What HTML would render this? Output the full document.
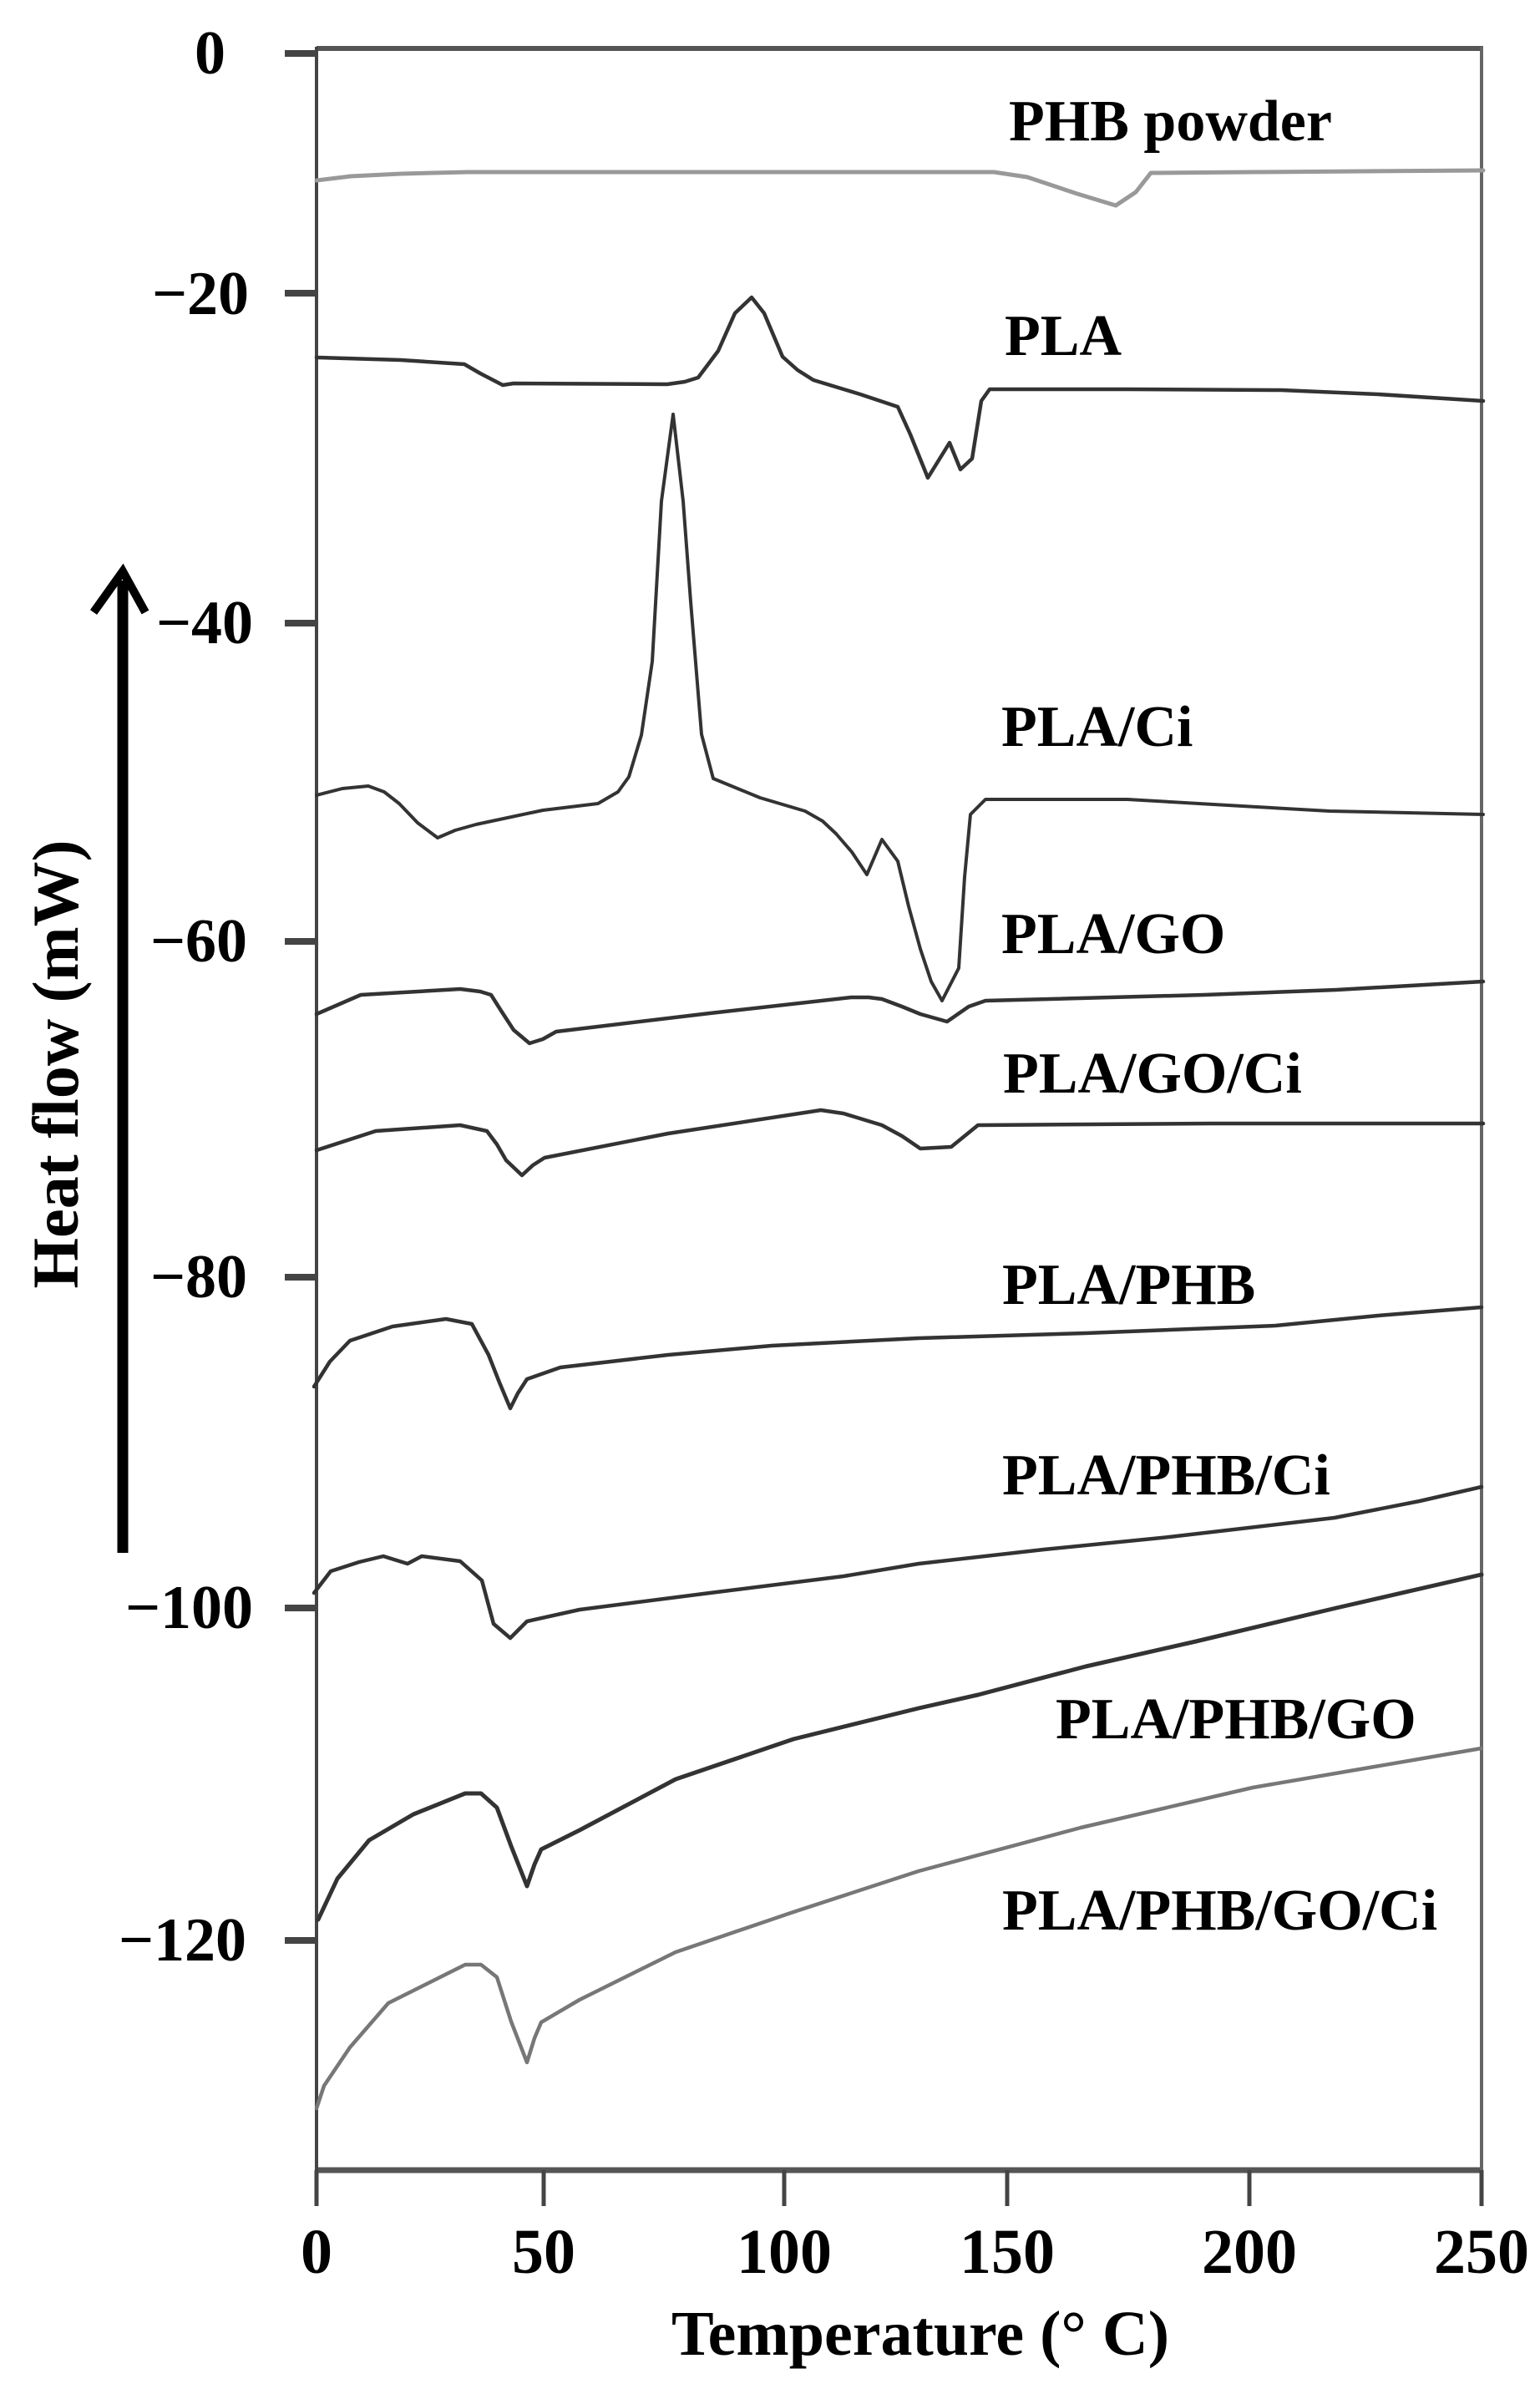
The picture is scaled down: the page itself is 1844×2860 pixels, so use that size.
<!DOCTYPE html>
<html><head><meta charset="utf-8"><style>
html,body{margin:0;padding:0;background:#fff;}
svg{display:block;}
text{font-family:"Liberation Serif",serif;font-weight:bold;fill:#000;}
</style></head><body>
<svg width="1844" height="2860" viewBox="0 0 1844 2860" xmlns="http://www.w3.org/2000/svg">
<!-- frame -->
<line x1="379" y1="58" x2="1776" y2="58" stroke="#555" stroke-width="6"/>
<line x1="379" y1="2598" x2="1776" y2="2598" stroke="#555" stroke-width="7"/>
<line x1="379" y1="56" x2="379" y2="2600" stroke="#444" stroke-width="4"/>
<line x1="1774" y1="56" x2="1774" y2="2600" stroke="#666" stroke-width="4"/>
<!-- y ticks -->
<g stroke="#444" stroke-width="8">
<line x1="341" y1="64" x2="379" y2="64"/>
<line x1="341" y1="351" x2="379" y2="351"/>
<line x1="341" y1="746" x2="379" y2="746"/>
<line x1="341" y1="1127" x2="379" y2="1127"/>
<line x1="341" y1="1529" x2="379" y2="1529"/>
<line x1="341" y1="1925" x2="379" y2="1925"/>
<line x1="341" y1="2323" x2="379" y2="2323"/>
</g>
<g font-size="74" text-anchor="end">
<text x="270" y="88">0</text>
<text x="298" y="376">−20</text>
<text x="303" y="770">−40</text>
<text x="296" y="1151">−60</text>
<text x="296" y="1553">−80</text>
<text x="303" y="1949">−100</text>
<text x="295" y="2347">−120</text>
</g>
<!-- x ticks -->
<g stroke="#444" stroke-width="5">
<line x1="379" y1="2598" x2="379" y2="2641"/>
<line x1="651" y1="2598" x2="651" y2="2641"/>
<line x1="939" y1="2598" x2="939" y2="2641"/>
<line x1="1206" y1="2598" x2="1206" y2="2641"/>
<line x1="1496" y1="2598" x2="1496" y2="2641"/>
<line x1="1774" y1="2598" x2="1774" y2="2641"/>
</g>
<g font-size="76" text-anchor="middle">
<text x="379" y="2721">0</text>
<text x="651" y="2721">50</text>
<text x="939" y="2721">100</text>
<text x="1206" y="2721">150</text>
<text x="1496" y="2721">200</text>
<text x="1774" y="2721">250</text>
</g>
<text x="1102" y="2819" font-size="76" text-anchor="middle">Temperature (° C)</text>
<!-- y label and arrow -->
<text transform="translate(93,1274) rotate(-90)" font-size="78" text-anchor="middle">Heat flow  (mW)</text>
<line x1="147" y1="1859" x2="147" y2="695" stroke="#000" stroke-width="13"/>
<polyline points="112,733 147,684 174,733" fill="none" stroke="#000" stroke-width="10"/>
<!-- curves -->
<g fill="none" stroke-linejoin="round" stroke-linecap="round">
<polyline stroke="#999" stroke-width="5" points="379,216 420,211 480,208 560,206 1190,206 1230,212 1290,232 1336,246 1360,230 1378,207 1500,206 1776,204"/>
<polyline stroke="#333" stroke-width="4.5" points="379,428 480,431 556,436 575,447 602,461 615,459 799,460 820,457 836,452 860,420 880,375 900,356 915,375 937,427 955,443 974,455 1030,472 1075,487 1090,520 1111,572 1137,530 1150,562 1164,549 1175,480 1185,466 1350,466 1534,467 1650,472 1776,480"/>
<polyline stroke="#333" stroke-width="4" points="379,952 410,944 441,941 460,948 478,962 500,985 524,1003 545,994 570,987 650,970 716,962 740,948 753,930 768,880 781,792 792,600 806,496 818,600 827,720 840,879 854,932 910,955 964,971 985,983 1001,998 1020,1020 1038,1047 1056,1005 1075,1031 1088,1085 1102,1136 1115,1175 1128,1198 1148,1159 1155,1050 1162,975 1180,957 1350,957 1470,964 1592,971 1776,975"/>
<polyline stroke="#333" stroke-width="4.5" points="379,1214 432,1191 551,1184 575,1187 588,1191 600,1210 615,1233 634,1249 650,1244 666,1235 850,1213 1019,1194 1040,1194 1056,1196 1080,1205 1102,1214 1134,1223 1160,1205 1180,1198 1442,1191 1600,1185 1776,1175"/>
<polyline stroke="#333" stroke-width="4.5" points="379,1377 450,1354 551,1347 583,1354 595,1370 606,1389 625,1407 638,1395 652,1386 800,1357 983,1329 1010,1333 1056,1347 1080,1360 1102,1375 1139,1373 1155,1360 1171,1347 1450,1345 1776,1345"/>
<polyline stroke="#333" stroke-width="4.5" points="376,1660 395,1630 419,1605 470,1588 534,1579 565,1585 585,1622 598,1655 611,1686 620,1668 631,1651 671,1637 800,1622 924,1611 1100,1602 1300,1596 1527,1587 1650,1575 1774,1565"/>
<polyline stroke="#333" stroke-width="4.5" points="376,1907 396,1881 430,1870 459,1863 488,1872 505,1863 551,1869 577,1892 591,1944 611,1961 631,1941 694,1927 850,1907 1010,1887 1100,1872 1250,1855 1400,1840 1598,1817 1700,1797 1774,1780"/>
<polyline stroke="#333" stroke-width="5" points="381,2298 404,2249 442,2203 495,2172 557,2147 576,2147 595,2164 612,2210 631,2258 640,2232 648,2214 694,2191 809,2130 950,2082 1100,2045 1171,2029 1300,1995 1432,1965 1600,1925 1774,1885"/>
<polyline stroke="#777" stroke-width="4.5" points="379,2524 388,2497 419,2451 465,2398 557,2352 576,2352 595,2367 612,2420 631,2469 640,2440 648,2421 694,2394 809,2337 950,2289 1100,2240 1294,2188 1500,2140 1774,2093"/>
</g>
<!-- series labels -->
<g font-size="70">
<text x="1208" y="168">PHB powder</text>
<text x="1203" y="425">PLA</text>
<text x="1199" y="893">PLA/Ci</text>
<text x="1199" y="1141">PLA/GO</text>
<text x="1201" y="1308">PLA/GO/Ci</text>
<text x="1200" y="1561">PLA/PHB</text>
<text x="1200" y="1789">PLA/PHB/Ci</text>
<text x="1264" y="2081">PLA/PHB/GO</text>
<text x="1200" y="2310">PLA/PHB/GO/Ci</text>
</g>
</svg>
</body></html>
